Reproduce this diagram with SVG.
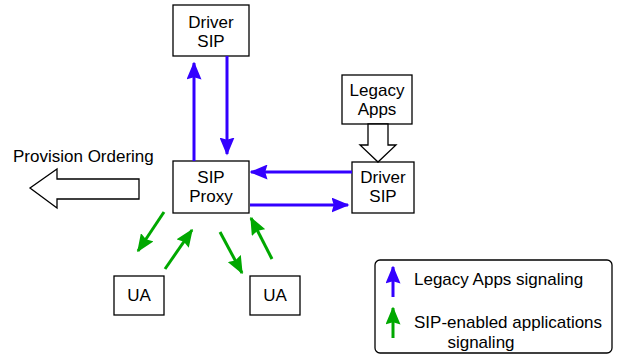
<svg xmlns="http://www.w3.org/2000/svg" width="617" height="356" viewBox="0 0 617 356">
  <defs>
    <marker id="headBlue" viewBox="0 0 12 10" refX="11" refY="5" markerWidth="6" markerHeight="5" markerUnits="strokeWidth" orient="auto">
      <path d="M0,0 L12,5 L0,10 L1.5,5 Z" fill="#3300ff"/>
    </marker>
    <marker id="headGreen" viewBox="0 0 12 10" refX="11" refY="5" markerWidth="6" markerHeight="5" markerUnits="strokeWidth" orient="auto">
      <path d="M0,0 L12,5 L0,10 L1.5,5 Z" fill="#00a800"/>
    </marker>
    <style>
      .box { fill: #ffffff; stroke: #000000; stroke-width: 1.3; }
      .lbl { font-family: "Liberation Sans", Arial, sans-serif; font-size: 17px; fill: #000000; text-anchor: middle; }
      .free { font-family: "Liberation Sans", Arial, sans-serif; font-size: 17px; fill: #000000; }
      .blue { stroke: #3300ff; stroke-width: 3; fill: none; marker-end: url(#headBlue); }
      .green { stroke: #00a800; stroke-width: 3; fill: none; marker-end: url(#headGreen); }
      .hollow { fill: #ffffff; stroke: #000000; stroke-width: 1.3; stroke-linejoin: miter; }
    </style>
  </defs>

  <!-- nodes -->
  <g id="driver-sip-top">
    <rect class="box" x="173" y="5" width="76" height="51"/>
    <text class="lbl" x="211" y="28">Driver</text>
    <text class="lbl" x="211" y="47">SIP</text>
  </g>

  <g id="sip-proxy">
    <rect class="box" x="173" y="161" width="76" height="52"/>
    <text class="lbl" x="211" y="183">SIP</text>
    <text class="lbl" x="211" y="202">Proxy</text>
  </g>

  <g id="legacy-apps">
    <rect class="box" x="342" y="75" width="70" height="49"/>
    <text class="lbl" x="377" y="96">Legacy</text>
    <text class="lbl" x="377" y="115">Apps</text>
  </g>

  <g id="driver-sip-right">
    <rect class="box" x="352" y="162" width="62" height="51"/>
    <text class="lbl" x="383" y="183">Driver</text>
    <text class="lbl" x="383" y="202">SIP</text>
  </g>

  <g id="ua-left">
    <rect class="box" x="114" y="276" width="50" height="39"/>
    <text class="lbl" x="139" y="301">UA</text>
  </g>

  <g id="ua-right">
    <rect class="box" x="250" y="276" width="50" height="39"/>
    <text class="lbl" x="275" y="301">UA</text>
  </g>

  <g id="provision-ordering">
    <text class="free" x="13" y="162">Provision Ordering</text>
    <path class="hollow" d="M139,179 L57,179 L57,169 L30,188 L57,208 L57,199 L139,199 Z"/>
  </g>

  <!-- connectors -->
  <g id="connectors">
    <line class="blue" x1="194" y1="161" x2="194" y2="63"/>
    <line class="blue" x1="227" y1="56" x2="227" y2="154"/>
    <line class="blue" x1="352" y1="172" x2="251" y2="172"/>
    <line class="blue" x1="250" y1="205" x2="348" y2="205"/>
    <line class="green" x1="164" y1="212" x2="138" y2="251"/>
    <line class="green" x1="165" y1="269" x2="192" y2="230"/>
    <line class="green" x1="220" y1="232" x2="242" y2="273"/>
    <line class="green" x1="272" y1="259" x2="251" y2="218"/>
    <path class="hollow" d="M368,124 L388,124 L388,145 L396,145 L378,162 L360,145 L368,145 Z"/>
  </g>

  <!-- legend -->
  <g id="legend">
    <rect x="375" y="260" width="237" height="93" rx="5" ry="5" fill="#ffffff" stroke="#000000" stroke-width="1.3"/>
    <line class="blue" x1="393" y1="297" x2="393" y2="267"/>
    <text class="free" x="414" y="285">Legacy Apps signaling</text>
    <line class="green" x1="393" y1="338" x2="393" y2="308"/>
    <text class="free" x="414" y="328">SIP-enabled applications</text>
    <text class="lbl" x="481" y="348">signaling</text>
  </g>
</svg>
